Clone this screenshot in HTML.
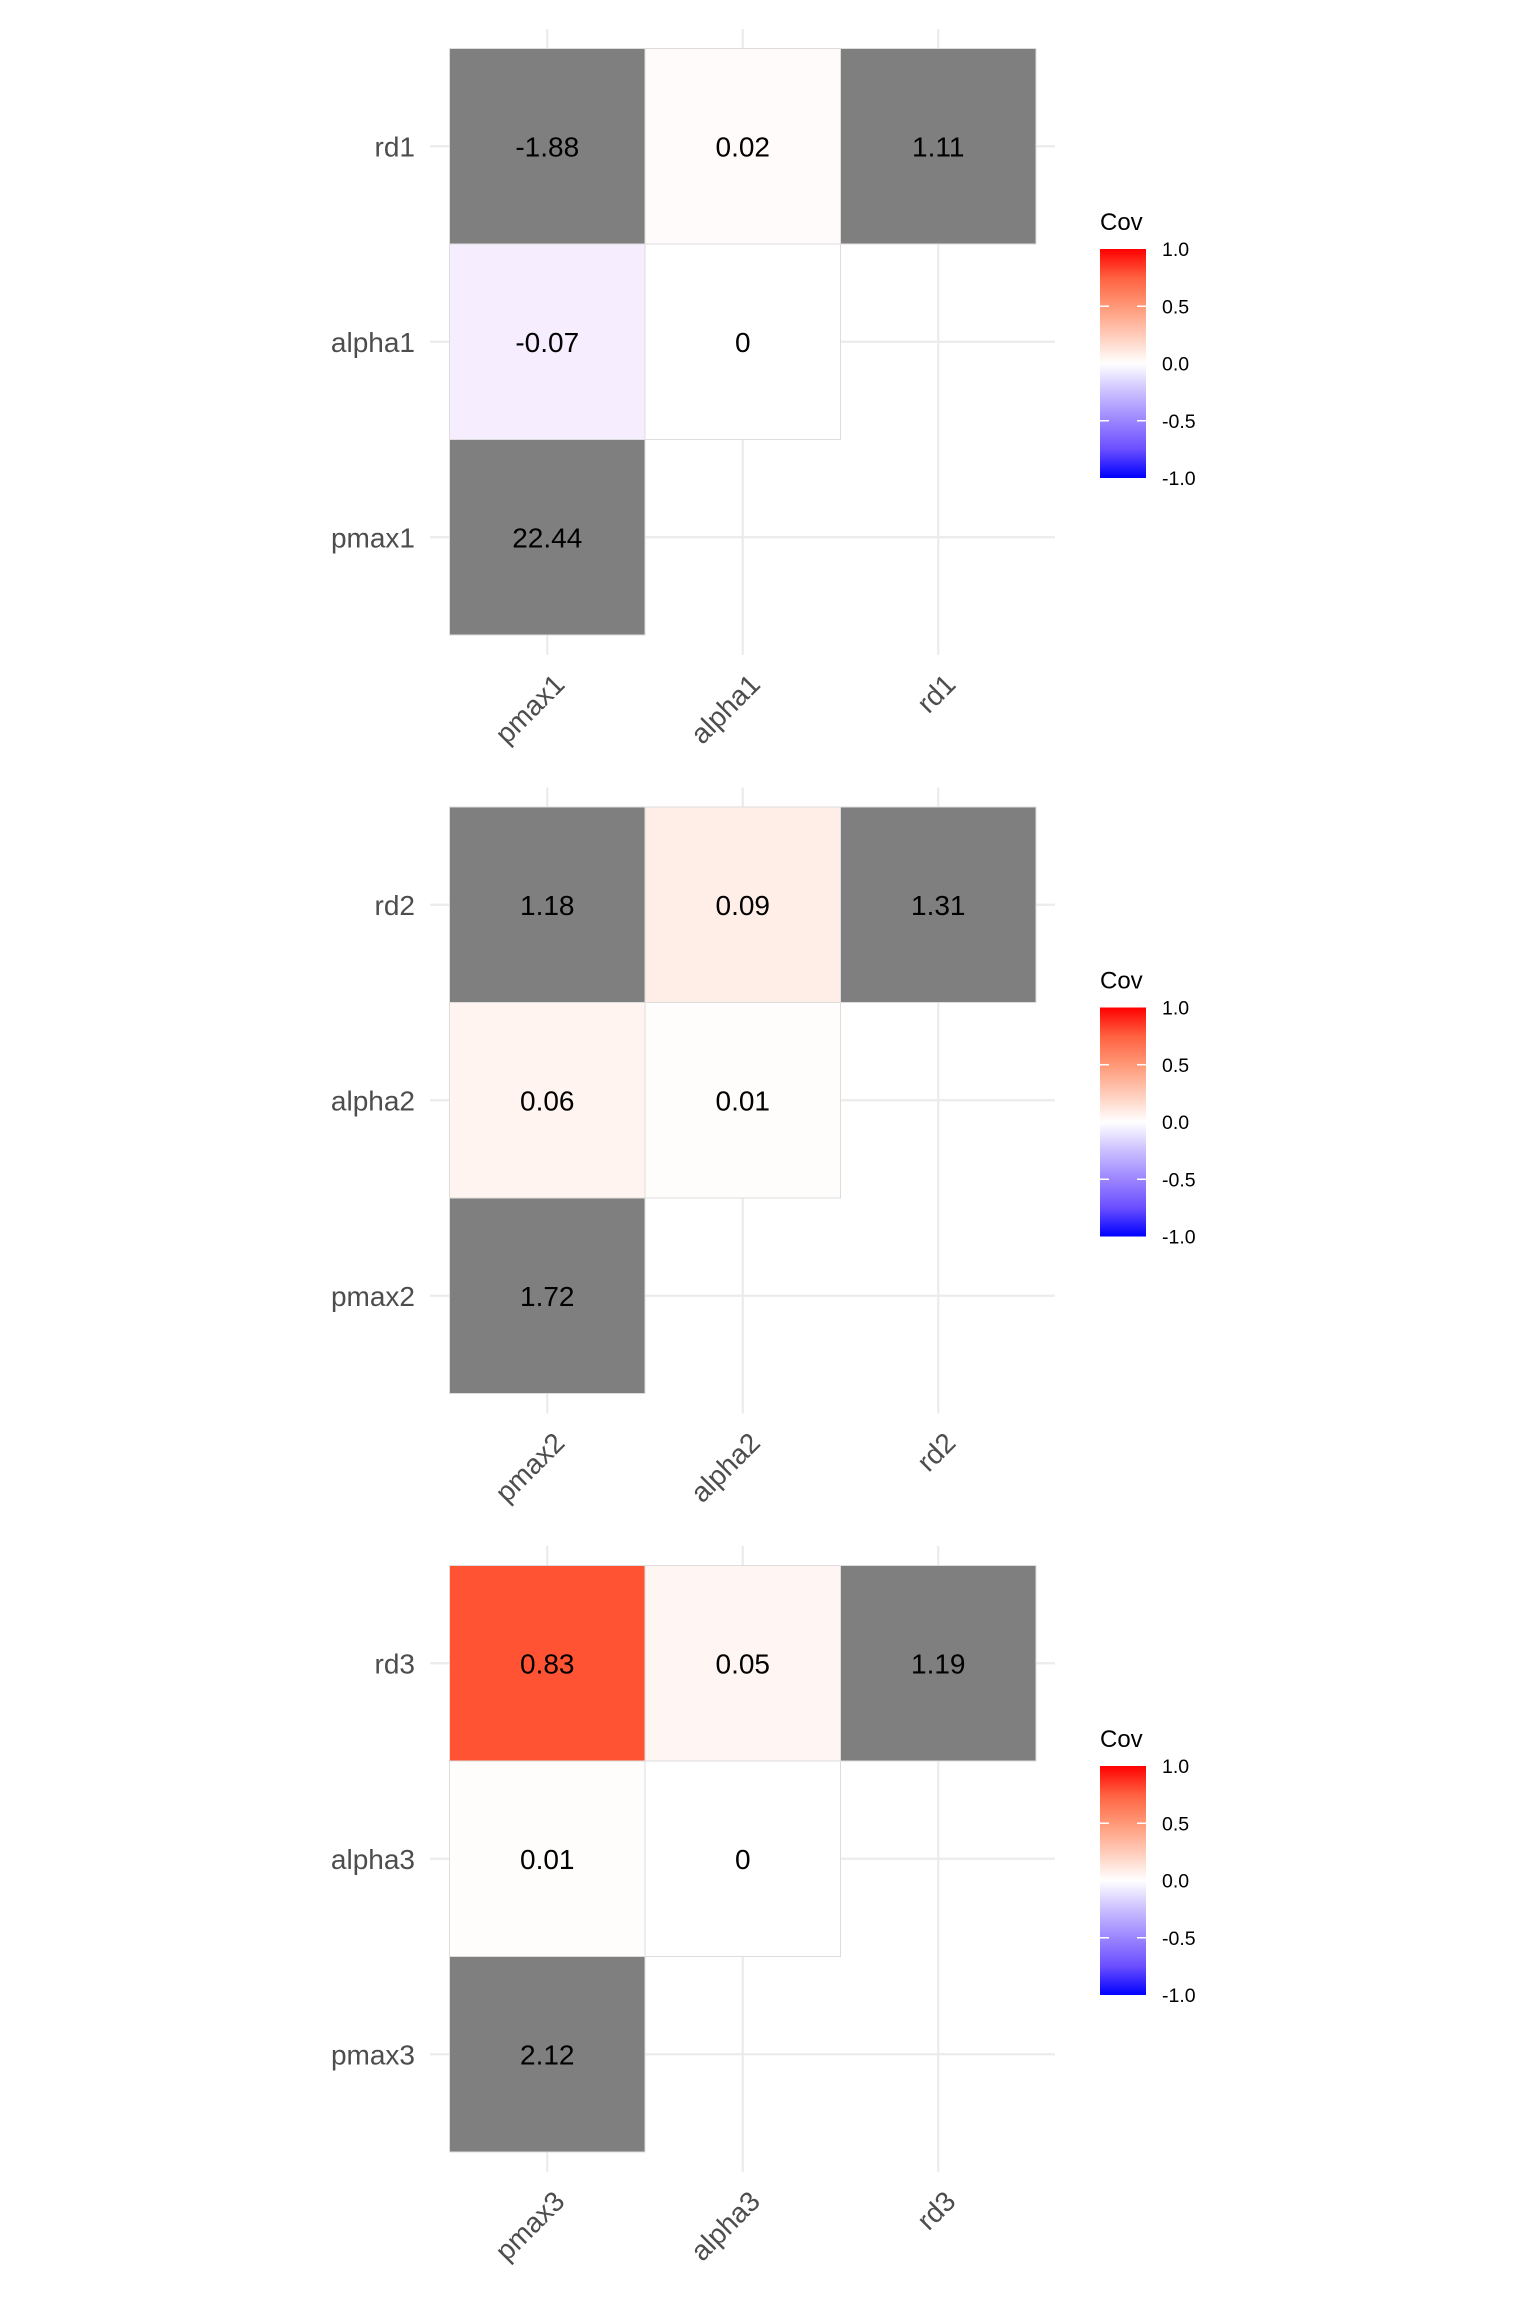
<!DOCTYPE html>
<html><head><meta charset="utf-8"><style>
html,body{margin:0;padding:0;background:#fff;}
svg{display:block;font-family:"Liberation Sans",Arial,sans-serif;}
</style></head><body>
<svg id="chart" width="1536" height="2304" viewBox="0 0 1536 2304" xmlns="http://www.w3.org/2000/svg">
<defs>
<linearGradient id="covgrad" x1="0" y1="1" x2="0" y2="0">
<stop offset="0" stop-color="#0000ff"/>
<stop offset="0.125" stop-color="#6a4eff"/>
<stop offset="0.25" stop-color="#9c85ff"/>
<stop offset="0.375" stop-color="#cbbfff"/>
<stop offset="0.5" stop-color="#ffffff"/>
<stop offset="0.625" stop-color="#ffcbb9"/>
<stop offset="0.75" stop-color="#ff9877"/>
<stop offset="0.875" stop-color="#ff6140"/>
<stop offset="1" stop-color="#ff0000"/>
</linearGradient>
</defs>
</svg>
<script>
const panelLabels = [["pmax1","alpha1","rd1"],["pmax2","alpha2","rd2"],["pmax3","alpha3","rd3"]];
// lower-triangular values: row = y variable (pmax, alpha, rd), col = x variable
const panel1Values = [[22.44],[-0.07,0],[-1.88,0.02,1.11]];
const panel2Values = [[1.72],[0.06,0.01],[1.18,0.09,1.31]];
const panel3Values = [[2.12],[0.01,0],[0.83,0.05,1.19]];
const panelValues = [panel1Values, panel2Values, panel3Values];
const legendTicks = [1.0,0.5,0.0,-0.5,-1.0];
const legendTickLabels = ["1.0","0.5","0.0","-0.5","-1.0"];

const NS="http://www.w3.org/2000/svg";
const svg=document.getElementById('chart');
function mk(tag,attrs,parent){const e=document.createElementNS(NS,tag);for(const k in attrs)e.setAttribute(k,attrs[k]);(parent||svg).appendChild(e);return e;}

// Lab interpolation colour scale (ggplot gradient2: blue - white - red)
function toLin(c){c/=255;return c<=0.04045?c/12.92:Math.pow((c+0.055)/1.055,2.4);}
function fromLin(c){c=c<=0.0031308?12.92*c:1.055*Math.pow(c,1/2.4)-0.055;return Math.max(0,Math.min(255,Math.round(c*255)));}
function rgb2lab(r,g,b){r=toLin(r);g=toLin(g);b=toLin(b);
let X=(r*0.4124+g*0.3576+b*0.1805)/0.95047,Y=r*0.2126+g*0.7152+b*0.0722,Z=(r*0.0193+g*0.1192+b*0.9505)/1.08883;
const f=t=>t>0.008856?Math.cbrt(t):7.787*t+16/116;X=f(X);Y=f(Y);Z=f(Z);return[116*Y-16,500*(X-Y),200*(Y-Z)];}
function lab2rgb(L,a,bb){let Y=(L+16)/116,X=a/500+Y,Z=Y-bb/200;const fi=t=>t*t*t>0.008856?t*t*t:(t-16/116)/7.787;
X=fi(X)*0.95047;Y=fi(Y);Z=fi(Z)*1.08883;
const r=X*3.2406+Y*-1.5372+Z*-0.4986,g=X*-0.9689+Y*1.8758+Z*0.0415,b=X*0.0557+Y*-0.2040+Z*1.0570;
return 'rgb('+fromLin(r)+','+fromLin(g)+','+fromLin(b)+')';}
const labW=rgb2lab(255,255,255),labR=rgb2lab(255,0,0),labB=rgb2lab(0,0,255);
function fillColor(v){if(Math.abs(v)>1)return '#7f7f7f';const t=Math.abs(v),e=v>=0?labR:labB;
return lab2rgb(labW[0]+(e[0]-labW[0])*t,labW[1]+(e[1]-labW[1])*t,labW[2]+(e[2]-labW[2])*t);}

const panelH=758.5, tile=195.5, x0=449.5, y0=48.5;
const xScale=i=>x0+i*tile;           // left edge of column i
const yScale=(P,r)=>P+y0+(2-r)*tile;  // top edge of row r (row0 bottom)
const legendScale=(P,v)=>P+249+(1-v)/2*229;

panelValues.forEach((vals,p)=>{
  const P=p*panelH;
  const g=mk('g',{});
  
  
  const labs=panelLabels[p];
  // grid lines
  for(let i=0;i<3;i++){
    const cx=xScale(i)+tile/2;
    const l=mk('line',{x1:cx,x2:cx,y1:P+29,y2:P+655,stroke:'#ebebeb','stroke-width':2.2},g);
    
    
    const cy=yScale(P,i)+tile/2;
    const h=mk('line',{x1:430,x2:1055,y1:cy,y2:cy,stroke:'#ebebeb','stroke-width':2.2},g);
    
    
  }
  // tiles
  vals.forEach((row,r)=>{
    row.forEach((v,c)=>{
      const rx=xScale(c), ry=yScale(P,r);
      const rect=mk('rect',{x:rx,y:ry,width:tile,height:tile,fill:fillColor(v),stroke:'#dddddd','stroke-width':1},g);
      
      
      const t=mk('text',{x:rx+tile/2,y:ry+tile/2+10,'text-anchor':'middle','font-size':28,fill:'#000'},g);
      
      
      t.textContent=String(v);
    });
  });
  // axis labels
  for(let i=0;i<3;i++){
    const cy=yScale(P,i)+tile/2;
    const yl=mk('text',{x:415,y:cy+10,'text-anchor':'end','font-size':28,fill:'#4d4d4d'},g);
    
    
    yl.textContent=labs[i];
    const cx=xScale(i)+tile/2+19, ty=P+686;
    const xl=mk('text',{x:cx,y:ty,'text-anchor':'end','font-size':28,fill:'#4d4d4d',transform:'rotate(-45 '+cx+' '+ty+')'},g);
    
    
    xl.textContent=labs[i];
  }
  // legend
  const lg=mk('g',{},g);
  
  
  const tt=mk('text',{x:1100,y:P+230,'font-size':24,fill:'#000'},lg);
  
  
  tt.textContent='Cov';
  const bar=mk('rect',{x:1100,y:legendScale(P,1),width:46,height:legendScale(P,-1)-legendScale(P,1),fill:'url(#covgrad)'},lg);
  
  
  legendTicks.forEach((v,k)=>{
    const ly=legendScale(P,v);
    if(Math.abs(v)<1&&v!==0){
      mk('line',{x1:1100,x2:1109,y1:ly,y2:ly,stroke:'#fff','stroke-width':1.5},lg);
      mk('line',{x1:1137,x2:1146,y1:ly,y2:ly,stroke:'#fff','stroke-width':1.5},lg);
    }
    const tl=mk('text',{x:1162,y:ly+7,'font-size':19.5,fill:'#000'},lg);
    
    
    tl.textContent=legendTickLabels[k];
  });
});
</script>
</body></html>
